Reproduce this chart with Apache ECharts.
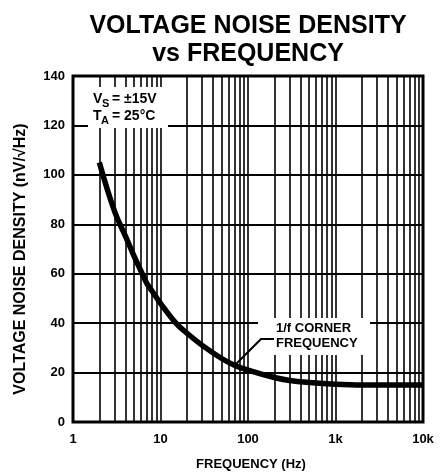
<!DOCTYPE html>
<html>
<head>
<meta charset="utf-8">
<script src="https://cdn.jsdelivr.net/npm/echarts@6/dist/echarts.min.js"></script>
<style>html,body{margin:0;padding:0;background:#fff}#c{width:447px;height:476px}</style>
</head>
<body>
<div id="c"></div>
<script>
const frequencies = [2,3,4,5,6,7,8,10,15,20,30,50,70,100,200,300,500,1000,2000,5000,10000];
const noiseDensity = [105,85,75,67,61,56,53,48,40,36,31,25.7,23,21,18,16.8,16,15.3,15,15,15];
const gridFrequencies = [2,3,4,5,6,7,8,9,10,20,30,40,50,60,70,80,90,100,200,300,400,500,600,700,800,900,1000,2000,3000,4000,5000,6000,7000,8000,9000];
const yTicks = [0,20,40,60,80,100,120,140];
const xTickLabels = {1:'1',10:'10',100:'100',1000:'1k',10000:'10k'};

const FONT = '"Liberation Sans", Arial, Helvetica, sans-serif';
const chart = echarts.init(document.getElementById('c'), null, {renderer:'canvas'});
chart.setOption({
  animation:false,
  backgroundColor:'#fff',
  title:{
    text:'VOLTAGE NOISE DENSITY\nvs FREQUENCY',
    left:243, top:7, textAlign:'center',
    textStyle:{fontFamily:FONT, fontSize:25, fontWeight:'bold', color:'#000', lineHeight:28}
  },
  grid:{left:73, right:24, top:76, bottom:52, show:true, borderColor:'#000', borderWidth:3, backgroundColor:'transparent'},
  xAxis:{
    type:'log', logBase:10, min:1, max:10000,
    axisLine:{show:false},
    axisTick:{show:false},
    splitLine:{show:false},
    axisLabel:{fontFamily:FONT, fontSize:13, fontWeight:'bold', color:'#000', margin:11,
      formatter:v=>xTickLabels[Math.round(v)] || ''},
    name:'FREQUENCY (Hz)', nameLocation:'middle', nameGap:36,
    nameTextStyle:{fontFamily:FONT, fontSize:13, fontWeight:'bold', color:'#000', padding:[0,0,0,6]}
  },
  yAxis:{
    type:'value', min:0, max:140, interval:20,
    axisLine:{show:false},
    axisTick:{show:false},
    splitLine:{show:true, lineStyle:{color:'#000', width:2}},
    axisLabel:{fontFamily:FONT, fontSize:13, fontWeight:'bold', color:'#000', margin:8,
      formatter:v=>yTicks.includes(v)?String(v):''},
    name:'VOLTAGE NOISE DENSITY (nV/\u221AHz)', nameLocation:'middle', nameGap:44, nameRotate:90,
    nameTextStyle:{fontFamily:FONT, fontSize:16, fontWeight:'bold', color:'#000', padding:[0,20,0,0]}
  },
  series:[
    {
      type:'line', data:[], z:1, silent:true,
      markLine:{
        silent:true, symbol:'none', label:{show:false},
        lineStyle:{color:'#000', width:1.6, type:'solid'},
        data:gridFrequencies.map(f=>({xAxis:f}))
      }
    },
    {
      type:'line', z:5, smooth:0.4, showSymbol:false, silent:true,
      lineStyle:{color:'#000', width:5.5},
      data:frequencies.map((f,i)=>[f, noiseDensity[i]])
    }
  ],
  graphic:[
    {type:'rect', z:100, shape:{x:88, y:87, width:80, height:41}, style:{fill:'#fff'}},
    {type:'text', z:101, x:93, y:92, style:{text:'V', font:'bold 14px '+FONT, fill:'#000'}},
    {type:'text', z:101, x:102, y:98, style:{text:'S', font:'bold 11px '+FONT, fill:'#000'}},
    {type:'text', z:101, x:112, y:92, style:{text:'= \u00B115V', font:'bold 14px '+FONT, fill:'#000'}},
    {type:'text', z:101, x:93, y:109, style:{text:'T', font:'bold 14px '+FONT, fill:'#000'}},
    {type:'text', z:101, x:101, y:115, style:{text:'A', font:'bold 11px '+FONT, fill:'#000'}},
    {type:'text', z:101, x:112, y:109, style:{text:'= 25\u00B0C', font:'bold 14px '+FONT, fill:'#000'}},
    {type:'rect', z:100, shape:{x:258, y:318, width:112, height:37}, style:{fill:'#fff'}},
    {type:'text', z:101, x:276, y:321, style:{text:'1/f CORNER\nFREQUENCY', font:'bold 13px '+FONT, fill:'#000', lineHeight:15}},
    {type:'polyline', z:101, shape:{points:[[274,339],[261,339],[236,364]]}, style:{stroke:'#000', lineWidth:2, fill:null}}
  ]
});
</script>
</body>
</html>
